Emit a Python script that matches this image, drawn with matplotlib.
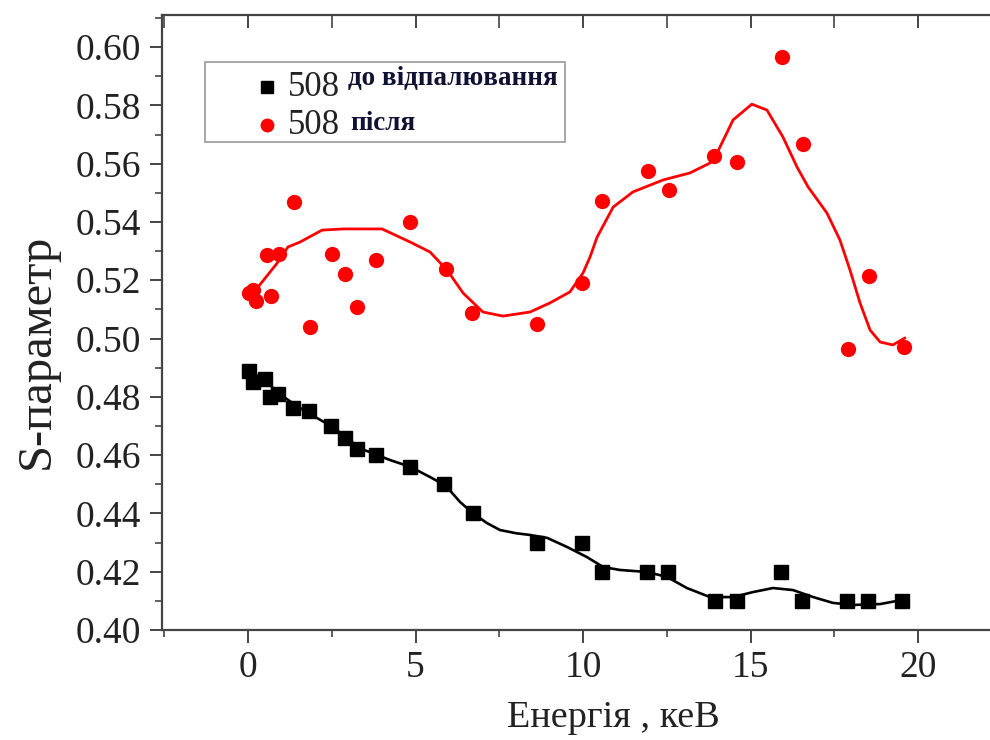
import numpy as np
import matplotlib
matplotlib.use('Agg')
import matplotlib.pyplot as plt
from matplotlib.patches import Rectangle
from matplotlib.lines import Line2D
from matplotlib.ticker import MultipleLocator

# measured points, before annealing (black squares)
energy_before = [0.03, 0.15, 0.51, 0.66, 0.90, 1.34, 1.82, 2.48, 2.90, 3.25, 3.82, 4.84, 5.85,
                 6.72, 8.63, 9.97, 10.57, 11.91, 12.54, 13.94, 14.60, 15.91, 16.54, 17.88, 18.51, 19.52]
s_before = [0.489, 0.485, 0.486, 0.480, 0.481, 0.476, 0.475, 0.470, 0.466, 0.462, 0.460, 0.456, 0.450,
            0.440, 0.430, 0.430, 0.420, 0.420, 0.420, 0.410, 0.410, 0.420, 0.410, 0.410, 0.410, 0.410]

# measured points, after annealing (red circles)
energy_after = [0.03, 0.15, 0.24, 0.57, 0.69, 0.93, 1.37, 1.85, 2.51, 2.90, 3.25, 3.82, 4.84, 5.91,
                6.69, 8.63, 9.97, 10.57, 11.94, 12.57, 13.91, 14.60, 15.94, 16.57, 17.91, 18.54, 19.58]
s_after = [0.5155, 0.5165, 0.5130, 0.5285, 0.5145, 0.5290, 0.5470, 0.5040, 0.5290, 0.5222, 0.5108,
           0.5270, 0.5400, 0.5238, 0.5088, 0.5050, 0.5190, 0.5472, 0.5575, 0.5508, 0.5625, 0.5607,
           0.5966, 0.5667, 0.4964, 0.5214, 0.4971]

# smoothed curves
curve_before_x = [0.03, 0.5, 1.0, 1.5, 2.0, 2.4, 2.9, 3.3, 3.8, 4.24, 4.84, 5.43, 5.9, 6.33, 6.72,
                  7.13, 7.52, 8.0, 8.42, 8.93, 9.52, 10.12, 10.6, 11.1, 11.91, 12.51, 13.1, 13.79,
                  14.48, 15.07, 15.67, 16.27, 16.87, 17.46, 18.06, 18.87, 19.52]
curve_before_y = [0.489, 0.4855, 0.4805, 0.4765, 0.4731, 0.4705, 0.4665, 0.4625, 0.4603, 0.4583,
                  0.4560, 0.4525, 0.4495, 0.4439, 0.4400, 0.4367, 0.4343, 0.4332, 0.4326, 0.4316,
                  0.4285, 0.4250, 0.4216, 0.4206, 0.4199, 0.4182, 0.4144, 0.4113, 0.4113, 0.4130,
                  0.4144, 0.4137, 0.4113, 0.4093, 0.4086, 0.4089, 0.4103]

curve_after_x = [0.3, 0.87, 1.19, 1.55, 2.21, 2.84, 4.0, 4.84, 5.43, 5.94, 6.42, 7.01, 7.61, 8.42,
                 9.01, 9.61, 10.0, 10.21, 10.42, 10.9, 11.49, 12.39, 13.19, 13.79, 14.0, 14.48, 15.04,
                 15.49, 15.97, 16.39, 16.72, 17.28, 17.67, 17.97, 18.27, 18.57, 18.87, 19.25, 19.61]
curve_after_y = [0.5177, 0.5259, 0.5314, 0.5331, 0.5372, 0.5376, 0.5376, 0.5331, 0.5297, 0.5235,
                 0.5156, 0.5091, 0.5077, 0.5091, 0.5122, 0.5160, 0.5225, 0.5280, 0.5348, 0.5451,
                 0.5503, 0.5544, 0.5568, 0.5602, 0.5636, 0.5750, 0.5804, 0.5784, 0.5691, 0.5588,
                 0.5520, 0.5431, 0.5338, 0.5235, 0.5122, 0.5029, 0.4988, 0.4978, 0.5002]

plt.rcParams['font.family'] = ['Liberation Serif', 'DejaVu Serif']

W, H = 990, 740
fig = plt.figure(figsize=(9.9, 7.4), dpi=100, facecolor='w')
ax = fig.add_axes([162 / W, 1 - 630 / H, (W - 162) / W, (630 - 15) / H])

ax.plot(curve_after_x, curve_after_y, color='red', lw=2.0, solid_joinstyle='round', solid_capstyle='round')
ax.plot(curve_before_x, curve_before_y, color='black', lw=1.9, solid_joinstyle='round', solid_capstyle='round')
ax.plot(energy_before, s_before, 's', color='black', ms=10, ls='none')
ax.plot(energy_after, s_after, 'o', color='red', ms=11, ls='none', mec='none')

ax.set_xlim(-2.57, 22.15)
ax.set_ylim(0.40, 0.611)
ax.xaxis.set_major_locator(MultipleLocator(5))
ax.xaxis.set_minor_locator(MultipleLocator(2.5))
ax.yaxis.set_major_locator(MultipleLocator(0.02))
ax.yaxis.set_minor_locator(MultipleLocator(0.01))
ax.yaxis.set_major_formatter(matplotlib.ticker.FormatStrFormatter('%.2f'))

for s in ['left', 'bottom', 'top']:
    ax.spines[s].set_color('#444444')
    ax.spines[s].set_linewidth(1.6)
ax.spines['right'].set_visible(False)

ax.tick_params(axis='both', which='major', direction='out', length=9, width=1.4,
               color='#444444', labelsize=27, labelcolor='#222222', pad=6)
ax.tick_params(axis='both', which='minor', direction='out', length=5, width=1.2, color='#444444')
ax.tick_params(axis='x', which='both', top=True, labeltop=False)

# top ticks point down into the plot
for t in ax.xaxis.get_major_ticks() + ax.xaxis.get_minor_ticks():
    t.tick2line.set_marker(matplotlib.markers.TICKDOWN)
    t.tick2line.set_markersize(9)

fig.text(613 / W, 1 - 718 / H, 'Енергія , кеВ', fontsize=27.5, ha='center', va='center', color='#222222')
fig.text(37 / W, 1 - 351 / H, 'S-параметр', fontsize=35, rotation=90, ha='center', va='center', color='#222222')

# legend built by hand
fig.patches.append(Rectangle((205 / W, 1 - 142 / H), 360 / W, 80 / H, transform=fig.transFigure,
                             fill=False, ec='#999999', lw=1.2))
fig.lines.append(Line2D([267 / W], [1 - 87 / H], marker='s', color='black', ms=8, transform=fig.transFigure))
fig.lines.append(Line2D([267 / W], [1 - 125 / H], marker='o', color='red', mec='none', ms=10, transform=fig.transFigure))
fig.text(288 / W, 1 - 88 / H, '508', fontsize=25, ha='left', va='center', color='#222222')
fig.text(288 / W, 1 - 126 / H, '508', fontsize=25, ha='left', va='center', color='#222222')
fig.text(348 / W, 1 - 78 / H, 'до відпалювання', fontsize=19.5, fontweight='bold', ha='left', va='center', color='#111133')
fig.text(350 / W, 1 - 123 / H, 'після', fontsize=19.5, fontweight='bold', ha='left', va='center', color='#111133')

fig.savefig('out.png', dpi=100, facecolor='w')
